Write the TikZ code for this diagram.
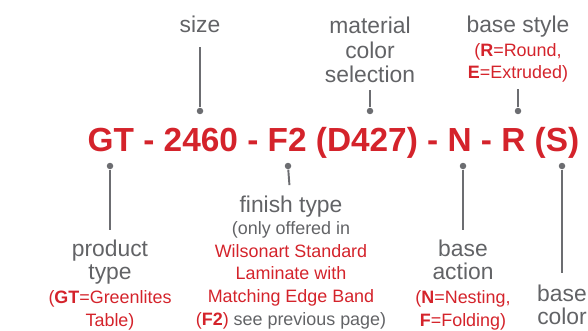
\documentclass[tikz,border=0pt]{standalone}
\usepackage{fontspec}
\setmainfont{Liberation Sans}
\usetikzlibrary{positioning}
\definecolor{codered}{RGB}{212,35,43}
\definecolor{labelgray}{RGB}{98,99,102}
\definecolor{pingray}{RGB}{108,109,113}

\begin{document}
\begin{tikzpicture}[
    x=0.02cm, y=-0.02cm,
    code/.style={font=\fontsize{19}{20}\selectfont\bfseries, text=codered, inner sep=0pt},
    lbl/.style={font=\fontsize{13}{12.6}\selectfont, text=labelgray, align=center, inner sep=0pt},
    note/.style={font=\fontsize{10.2}{13}\selectfont, text=codered, align=center, inner sep=0pt},
    pin/.style={circle, fill=pingray, inner sep=0pt, minimum size=0.13cm},
    stem/.style={draw=pingray, line width=1.1pt}
]
\useasboundingbox (0,0) rectangle (588,331);

% --- Codigo del producto ---
\node[code, anchor=base] (code) at (333.5,152) {GT - 2460 - F2 (D427) - N - R (S)};

% --- Puntos de referencia ---
\node[pin] (pSize) at (200,111) {};
\node[pin] (pMat) at (370,111) {};
\node[pin] (pStyle) at (518,111) {};
\node[pin] (pType) at (110,166) {};
\node[pin] (pFinish) at (288,166) {};
\node[pin] (pAction) at (463,166) {};
\node[pin] (pColor) at (562,166) {};

% --- Etiquetas superiores (anclaje en la ultima linea) ---
\node[lbl, anchor=base] (size) at (200,33) {size};
\node[lbl, anchor=base, font=\fontsize{13}{14.2}\selectfont] (mat) at (370,83) {material\\color\\selection};
\node[lbl, anchor=base] (style) at (518,33) {base style};
\node[note, anchor=base] (styleNote) at (518,79) {(\textbf{R}=Round,\\\textbf{E}=Extruded)};

% --- Etiquetas inferiores ---
\node[lbl, anchor=base] (type) at (110,279) {product\\type};
\node[note, anchor=base] (typeNote) at (110,326) {(\textbf{GT}=Greenlites\\Table)};
\node[lbl, anchor=base] (finish) at (291,212) {finish type};
\node[note, anchor=base, font=\fontsize{10.2}{12.9}\selectfont] (finishNote) at (291,325)
    {\textcolor{labelgray}{(only offered in}\\Wilsonart Standard\\Laminate with\\Matching Edge Band\\(\textbf{F2}) \textcolor{labelgray}{see previous page)}};
\node[lbl, anchor=base] (action) at (463,279) {base\\action};
\node[note, anchor=base] (actionNote) at (463,326) {(\textbf{N}=Nesting,\\\textbf{F}=Folding)};
\node[lbl, anchor=base] (color) at (562,324) {base\\color};

% --- Conectores ---
\draw[stem, shorten >=7.4pt] (pSize) -- (size);
\draw[stem, shorten >=3.4pt] (pMat) -- (mat);
\draw[stem, shorten >=3.4pt] (pStyle) -- (styleNote);
\draw[stem, shorten >=5.7pt] (pType) -- (type);
\draw[stem, shorten >=5.7pt] (pFinish) -- (finish);
\draw[stem, shorten >=5.7pt] (pAction) -- (action);
\draw[stem, shorten >=6.8pt] (pColor) -- (color);

\end{tikzpicture}
\end{document}
